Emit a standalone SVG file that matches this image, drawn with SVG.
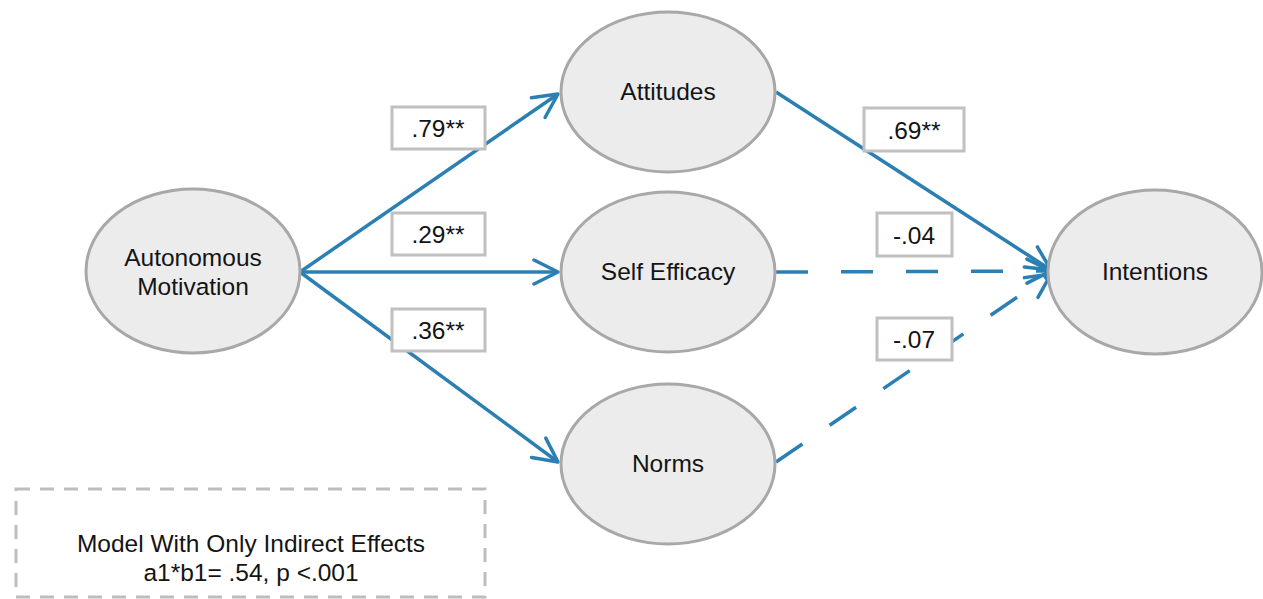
<svg xmlns="http://www.w3.org/2000/svg" width="1263" height="599" viewBox="0 0 1263 599">
<style>
.node ellipse{fill:#ececec;stroke:#a8a8a8;stroke-width:3}
text{font-family:"Liberation Sans",Arial,sans-serif;font-size:24.5px;fill:#141414;text-anchor:middle}
.lbl rect{fill:#fff;stroke:#c0c0c0;stroke-width:3}
.edge{stroke:#2b7fb3;stroke-width:3.5;fill:none}
.dash{stroke-dasharray:32 33}
</style>
<defs>
<marker id="arr" markerUnits="userSpaceOnUse" viewBox="-30 -15 32 30" refX="0" refY="0" markerWidth="32" markerHeight="30" orient="auto">
<polyline points="-24,-12 0,0 -24,12" fill="none" stroke="#2b7fb3" stroke-width="3.5" stroke-linecap="round" stroke-linejoin="round"/>
</marker>
</defs>
<g id="connectors">
<line class="edge" x1="300" y1="272" x2="558" y2="94" marker-end="url(#arr)"/>
<line class="edge" x1="300" y1="272" x2="558" y2="272" marker-end="url(#arr)"/>
<line class="edge" x1="300" y1="272" x2="558" y2="462" marker-end="url(#arr)"/>
<line class="edge" x1="776" y1="92" x2="1051" y2="270" marker-end="url(#arr)"/>
<line class="edge dash" x1="776" y1="272" x2="1051" y2="271" marker-end="url(#arr)"/>
<line class="edge dash" x1="776" y1="462" x2="1051" y2="274" marker-end="url(#arr)"/>
</g>
<g id="n-autonomous" class="node"><ellipse cx="193" cy="271" rx="107" ry="82"/><text x="193" y="266">Autonomous</text><text x="193" y="295">Motivation</text></g>
<g id="n-attitudes" class="node"><ellipse cx="668" cy="92" rx="107" ry="80"/><text x="668" y="100">Attitudes</text></g>
<g id="n-selfefficacy" class="node"><ellipse cx="668" cy="272" rx="107" ry="80"/><text x="668" y="280">Self Efficacy</text></g>
<g id="n-norms" class="node"><ellipse cx="668" cy="464" rx="107" ry="80"/><text x="668" y="472">Norms</text></g>
<g id="n-intentions" class="node"><ellipse cx="1155" cy="272" rx="107" ry="82"/><text x="1155" y="280">Intentions</text></g>
<g id="l-79" class="lbl"><rect x="392" y="107" width="93" height="42"/><text x="438" y="137">.79**</text></g>
<g id="l-29" class="lbl"><rect x="392" y="213" width="93" height="42"/><text x="438" y="243">.29**</text></g>
<g id="l-36" class="lbl"><rect x="392" y="309" width="93" height="42"/><text x="438" y="339">.36**</text></g>
<g id="l-69" class="lbl"><rect x="864" y="108" width="100" height="43"/><text x="914" y="139">.69**</text></g>
<g id="l-04" class="lbl"><rect x="877" y="213" width="75" height="43"/><text x="914" y="244">-.04</text></g>
<g id="l-07" class="lbl"><rect x="877" y="318" width="75" height="42"/><text x="914" y="348">-.07</text></g>
<g id="note">
<rect x="16" y="489" width="469" height="108" fill="none" stroke="#bdbdbd" stroke-width="3" stroke-dasharray="14 10"/>
<text x="251" y="552">Model With Only Indirect Effects</text>
<text x="251" y="581">a1*b1= .54, p &lt;.001</text>
</g>
</svg>
